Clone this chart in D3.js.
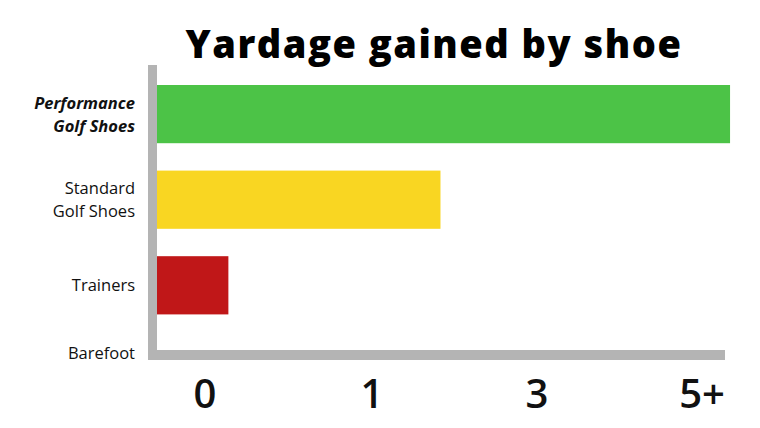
<!DOCTYPE html>
<html><head><meta charset="utf-8">
<script src="https://cdn.jsdelivr.net/npm/d3@7"></script>
<style>body{margin:0;background:#fff}</style>
</head><body>
<svg id="chart" width="760" height="428"></svg>
<script>
const categories = [["Performance", "Golf Shoes"], ["Standard", "Golf Shoes"], ["Trainers"], ["Barefoot"]];
const values = [5.34, 1.83, 0.14, 0];
const colors = ["#4cc347", "#f9d622", "#c01718", "#ffffff"];
const tickValues = [0, 1, 3, 5];
const tickLabels = ["0", "1", "3", "5+"];

const svg = d3.select("#chart");
const axisX = 157, axisBottom = 350;

// uneven tick spacing: 0,1,3,5+ are evenly placed
const x = d3.scaleLinear().domain(tickValues).range([205, 372, 537, 702]);
const y = d3.scaleBand().domain(d3.range(categories.length)).range([85, 400]).paddingInner(0.32);

svg.append("text").attr("x", 434).attr("y", 58).attr("text-anchor", "middle")
    .style("font", "800 38px 'Open Sans', sans-serif").style("letter-spacing", "1.5px")
    .text("Yardage gained by shoe");

svg.selectAll("rect.bar").data(values).enter().append("rect")
    .attr("class", "bar")
    .attr("x", axisX)
    .attr("y", (d, i) => y(i))
    .attr("width", d => d > 0 ? x(d) - axisX : 0)
    .attr("height", y.bandwidth())
    .attr("fill", (d, i) => colors[i]);

// axis lines
svg.append("rect").attr("x", 148).attr("y", 65).attr("width", 9).attr("height", 295).attr("fill", "#b4b4b4");
svg.append("rect").attr("x", 148).attr("y", axisBottom).attr("width", 577).attr("height", 10).attr("fill", "#b4b4b4");

// category labels
const lab = svg.selectAll("text.cat").data(categories).enter().append("text")
    .attr("class", "cat").attr("text-anchor", "end")
    .style("font-family", "'Open Sans', sans-serif").style("font-size", "16.5px")
    .style("font-weight", (d, i) => i === 0 ? "700" : "400")
    .style("font-style", (d, i) => i === 0 ? "italic" : "normal")
    .attr("fill", "#111");
lab.each(function(d, i){
    const cy = i === 3 ? 353 : y(i) + y.bandwidth() / 2;
    const n = d.length;
    d3.select(this).selectAll("tspan").data(d).enter().append("tspan")
        .attr("x", 135)
        .attr("y", (t, j) => cy + 6 + (j - (n - 1) / 2) * 23)
        .text(t => t);
});

// tick labels
svg.selectAll("text.tick").data(tickValues).enter().append("text")
    .attr("class", "tick").attr("text-anchor", "middle")
    .attr("x", d => x(d)).attr("y", 408)
    .style("font", "600 40px 'Open Sans', sans-serif").attr("fill", "#111")
    .text((d, i) => tickLabels[i]);
</script>
</body></html>
